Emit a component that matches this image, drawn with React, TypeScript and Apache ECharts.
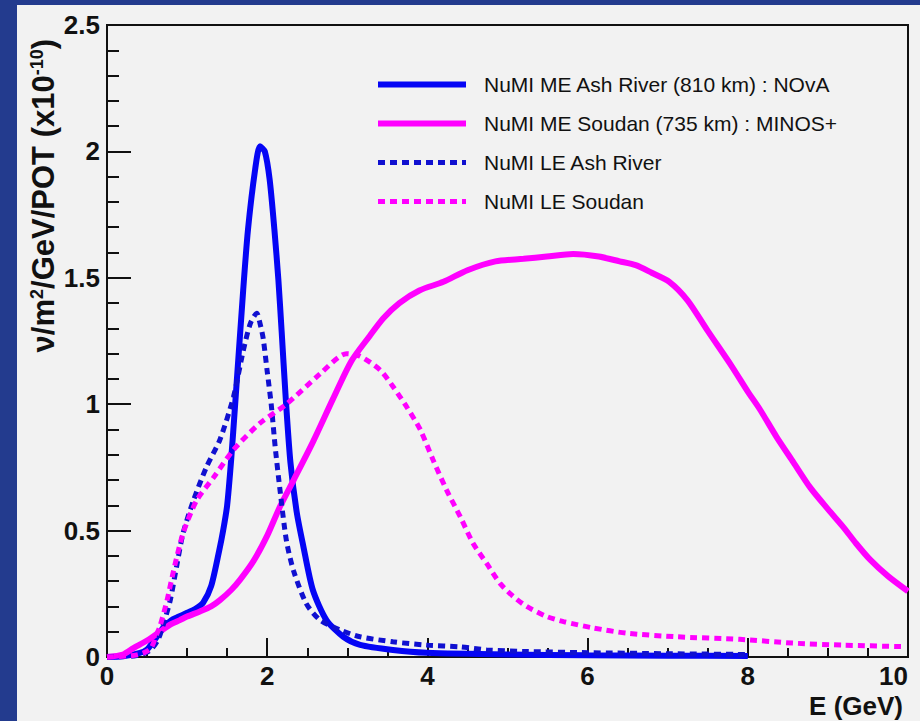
import React, { useEffect, useRef } from "react";
import * as echarts from "echarts";

// Energy (GeV) and flux (nu/m^2/GeV/POT, x1e-10)
const meAshRiver: [number, number][] = [
  [0, 0], [0.2, 0.003], [0.4, 0.015], [0.5, 0.03], [0.6, 0.07], [0.7, 0.115], [0.8, 0.145],
  [0.9, 0.16], [1.0, 0.175], [1.1, 0.19], [1.2, 0.215], [1.3, 0.28], [1.4, 0.42], [1.45, 0.5],
  [1.5, 0.6], [1.55, 0.78], [1.6, 1.0], [1.7, 1.45], [1.76, 1.69], [1.85, 1.93], [1.91, 2.02],
  [1.97, 2.0], [2.03, 1.89], [2.09, 1.69], [2.14, 1.49], [2.18, 1.29], [2.23, 1.03], [2.29, 0.77],
  [2.37, 0.57], [2.45, 0.44], [2.57, 0.265], [2.74, 0.146], [2.95, 0.08], [3.16, 0.048],
  [3.57, 0.028], [3.99, 0.017], [5, 0.01], [6, 0.007], [7, 0.005], [8, 0.004],
];

const meSoudan: [number, number][] = [
  [0, 0], [0.2, 0.01], [0.33, 0.035], [0.5, 0.065], [0.66, 0.1], [0.8, 0.13], [0.91, 0.146],
  [1.0, 0.16], [1.16, 0.18], [1.3, 0.2], [1.41, 0.225], [1.55, 0.265], [1.66, 0.305], [1.83, 0.38],
  [2.0, 0.48], [2.16, 0.595], [2.33, 0.7], [2.57, 0.85], [2.82, 1.02], [3.05, 1.17], [3.28, 1.27],
  [3.45, 1.34], [3.65, 1.4], [3.9, 1.45], [4.2, 1.484], [4.5, 1.53], [4.85, 1.565], [5.2, 1.575],
  [5.49, 1.584], [5.82, 1.594], [6.14, 1.584], [6.4, 1.565], [6.6, 1.55], [6.8, 1.52], [7.02, 1.484],
  [7.25, 1.41], [7.5, 1.29], [7.8, 1.15], [8.0, 1.05], [8.15, 0.98], [8.36, 0.87], [8.57, 0.77],
  [8.78, 0.67], [9.0, 0.585], [9.19, 0.515], [9.35, 0.45], [9.53, 0.384], [9.75, 0.32], [10.0, 0.26],
];

const leAshRiver: [number, number][] = [
  [0, 0], [0.3, 0.003], [0.45, 0.012], [0.55, 0.03], [0.64, 0.07], [0.72, 0.146], [0.79, 0.225],
  [0.87, 0.36], [0.95, 0.49], [1.08, 0.62], [1.24, 0.75], [1.41, 0.86], [1.58, 1.03], [1.7, 1.21],
  [1.79, 1.32], [1.87, 1.36], [1.91, 1.32], [1.95, 1.26], [2.0, 1.13], [2.05, 1.0], [2.1, 0.83],
  [2.16, 0.66], [2.24, 0.46], [2.33, 0.34], [2.49, 0.21], [2.66, 0.146], [2.91, 0.107], [3.16, 0.08],
  [3.57, 0.06], [3.99, 0.047], [4.41, 0.04], [4.74, 0.028], [5.2, 0.022], [6, 0.017], [7, 0.013],
  [8, 0.01],
];

const leSoudan: [number, number][] = [
  [0, 0], [0.3, 0.005], [0.45, 0.015], [0.55, 0.035], [0.62, 0.09], [0.66, 0.12], [0.75, 0.225],
  [0.83, 0.34], [0.95, 0.49], [1.12, 0.62], [1.33, 0.71], [1.58, 0.82], [1.91, 0.925], [2.24, 1.0],
  [2.66, 1.12], [2.99, 1.2], [3.16, 1.19], [3.41, 1.135], [3.57, 1.07], [3.74, 0.99], [3.91, 0.9],
  [4.07, 0.78], [4.24, 0.66], [4.41, 0.555], [4.57, 0.45], [4.74, 0.37], [4.91, 0.29], [5.07, 0.24],
  [5.24, 0.2], [5.49, 0.16], [5.7, 0.14], [6.07, 0.115], [6.49, 0.094], [7.11, 0.08], [7.9, 0.07],
  [8.56, 0.055], [9.19, 0.047], [9.94, 0.041],
];

const seriesNames = [
  "NuMI ME Ash River (810 km) : NOvA",
  "NuMI ME Soudan (735 km) : MINOS+",
  "NuMI LE Ash River",
  "NuMI LE Soudan",
];

const BLUE = "#0505f5";
const BLUE_DOT = "#1010d0";
const MAGENTA = "#ff00ff";
const FONT = "Liberation Sans, Arial, sans-serif";

export default function App() {
  const ref = useRef<HTMLDivElement>(null);

  useEffect(() => {
    if (!ref.current) return;
    const chart = echarts.init(ref.current, null, { renderer: "svg" });
    const axisCommon = {
      type: "value" as const,
      axisLine: { show: true, onZero: false, lineStyle: { color: "#111", width: 2 } },
      splitLine: { show: false },
      minorSplitLine: { show: false },
    };
    chart.setOption({
      animation: false,
      backgroundColor: "#233b8e",
      grid: {
        left: 107,
        top: 25,
        right: 12,
        bottom: 64,
        show: true,
        borderColor: "#111",
        borderWidth: 2,
        backgroundColor: "transparent",
        outerBoundsMode: "none",
      },
      graphic: [
        {
          type: "rect",
          z: -100,
          silent: true,
          shape: { x: 17, y: 5, width: 910, height: 720 },
          style: { fill: "#f2f2f2" },
        },
        {
          type: "text",
          x: 43,
          y: 39,
          rotation: Math.PI / 2,
          style: {
            text: "ν/m{s|2}/GeV/POT (x10{s|-10})",
            font: `bold 31px ${FONT}`,
            fill: "#111",
            align: "right",
            verticalAlign: "middle",
            rich: {
              s: { fontSize: 18, fontWeight: "bold", fontFamily: FONT, verticalAlign: "top", fill: "#111" },
            },
          },
        },
        {
          type: "text",
          x: 903,
          y: 706,
          style: {
            text: "E (GeV)",
            font: `bold 26px ${FONT}`,
            fill: "#111",
            align: "right",
            verticalAlign: "middle",
          },
        },
      ],
      legend: {
        orient: "vertical",
        left: 370,
        top: 69,
        itemWidth: 88,
        itemHeight: 14,
        itemGap: 18,
        data: seriesNames,
        itemStyle: { opacity: 0 },
        lineStyle: { width: "inherit" },
        textStyle: { fontSize: 21, color: "#111", fontFamily: FONT, padding: [0, 0, 0, 13] },
      },
      xAxis: {
        ...axisCommon,
        min: 0,
        max: 10,
        interval: 2,
        axisTick: { show: true, inside: true, length: 19, lineStyle: { color: "#111", width: 2 } },
        minorTick: { show: true, splitNumber: 4, length: 9, lineStyle: { color: "#111", width: 2 } },
        axisLabel: {
          fontSize: 26,
          fontWeight: "bold",
          fontFamily: FONT,
          color: "#111",
          margin: 6,
          alignMaxLabel: "right",
        },
      },
      yAxis: {
        ...axisCommon,
        min: 0,
        max: 2.5,
        interval: 0.5,
        axisTick: { show: true, inside: true, length: 24, lineStyle: { color: "#111", width: 2 } },
        minorTick: { show: true, splitNumber: 5, length: 12, lineStyle: { color: "#111", width: 2 } },
        axisLabel: {
          fontSize: 26,
          fontWeight: "bold",
          fontFamily: FONT,
          color: "#111",
          margin: 7,
        },
      },
      series: [
        {
          name: seriesNames[0],
          type: "line",
          data: meAshRiver,
          symbol: "none",
          smooth: 0.25,
          color: BLUE,
          lineStyle: { color: BLUE, width: 6 },
          z: 3,
        },
        {
          name: seriesNames[1],
          type: "line",
          data: meSoudan,
          symbol: "none",
          smooth: 0.25,
          color: MAGENTA,
          lineStyle: { color: MAGENTA, width: 6 },
          z: 4,
        },
        {
          name: seriesNames[2],
          type: "line",
          data: leAshRiver,
          symbol: "none",
          smooth: 0.25,
          color: BLUE_DOT,
          lineStyle: { color: BLUE_DOT, width: 5, type: [7, 5] },
          z: 5,
        },
        {
          name: seriesNames[3],
          type: "line",
          data: leSoudan,
          symbol: "none",
          smooth: 0.25,
          color: MAGENTA,
          lineStyle: { color: MAGENTA, width: 5, type: [7, 5] },
          z: 6,
        },
      ],
    });
    return () => chart.dispose();
  }, []);

  return (
    <div
      ref={ref}
      style={{ position: "fixed", left: 0, top: 0, width: 920, height: 721 }}
    />
  );
}
